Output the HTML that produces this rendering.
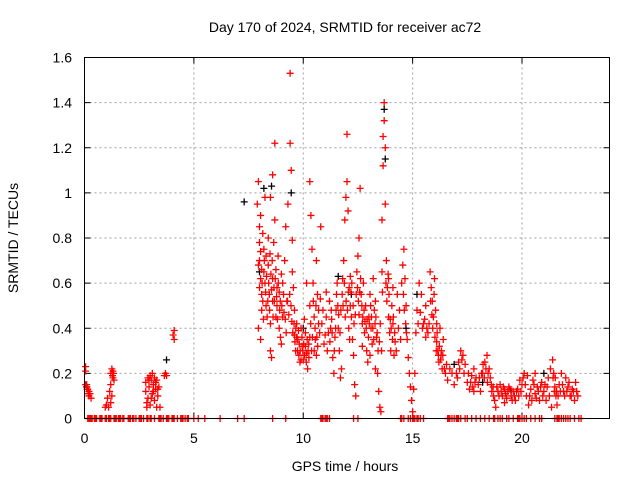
<!DOCTYPE html>
<html><head><meta charset="utf-8"><style>
body{margin:0;background:#fff;}
svg{display:block;font-family:"Liberation Sans",sans-serif;}
</style></head><body>
<svg id="chart" width="640" height="480" viewBox="0 0 640 480">
<text x="345" y="32" font-size="14" text-anchor="middle">Day 170 of 2024, SRMTID for receiver ac72</text>
<text x="345" y="471" font-size="14" text-anchor="middle">GPS time / hours</text>
<text x="18" y="238" font-size="14" text-anchor="middle" transform="rotate(-90 18 238)">SRMTID / TECUs</text>
<g id="grid"></g>
<g id="ticks"></g>
<g id="black"></g>
<g id="red"></g>
<rect x="84.5" y="57.5" width="525" height="361" fill="none" stroke="#000" stroke-width="1"/>
</svg>
<script>
const xTicks=[0,5,10,15,20];
const yTicks=[0,0.2,0.4,0.6,0.8,1,1.2,1.4,1.6];
const yTickLabels=["0","0.2","0.4","0.6","0.8","1","1.2","1.4","1.6"];
const zeroTimes=[0.15,0.2,0.25,0.3,0.35,0.45,0.5,0.55,0.7,0.75,0.8,0.95,1.0,1.1,1.15,1.2,1.35,1.4,1.45,1.55,1.6,1.65,1.75,1.8,2.0,2.05,2.1,2.2,2.25,2.35,2.5,2.55,2.6,2.7,2.85,2.9,3.0,3.05,3.2,3.4,3.45,3.5,3.6,3.75,3.8,3.85,4.0,4.05,4.1,4.25,4.4,4.45,4.5,4.6,4.7,4.75,5.0,5.2,5.5,6.2,7.0,7.3,8.6,9.2,10.8,10.85,10.9,11.0,11.05,11.1,11.2,12.3,12.5,14.45,14.5,14.6,14.8,14.9,15.0,15.05,15.1,15.2,15.25,15.35,15.5,16.6,16.65,16.7,16.8,16.9,17.0,17.05,17.1,17.2,17.4,17.5,17.7,17.9,18.1,18.3,18.5,18.7,18.75,18.9,19.0,19.1,19.3,19.4,19.6,19.8,19.85,19.9,20.0,20.1,20.2,20.4,20.6,20.8,20.9,21.5,21.6,21.65,21.7,21.8,21.9,22.0,22.1,22.2,22.4,22.6,22.7];
const redPts=[
[0.05,0.23],[0.05,0.21],[0.05,0.15],[0.1,0.14],[0.15,0.13],[0.2,0.12],[0.2,0.1],[0.25,0.11],[0.3,0.09],[0.1,0.15],[0.12,0.13],[0.18,0.11],
[0.95,0.05],[1.0,0.06],[1.05,0.09],[1.1,0.05],[1.15,0.12],[1.2,0.15],[1.2,0.2],[1.25,0.22],[1.3,0.18],[1.3,0.21],[1.35,0.17],[1.2,0.07],[1.25,0.1],[1.28,0.19],[1.33,0.2],
[2.8,0.16],[2.8,0.12],[2.85,0.07],[2.85,0.05],[2.9,0.18],[2.9,0.09],[2.95,0.14],[3.0,0.19],[3.0,0.06],[3.05,0.17],[3.1,0.2],[3.1,0.11],[3.15,0.15],[3.2,0.18],[3.2,0.08],[3.25,0.13],[3.3,0.17],[3.3,0.05],[3.35,0.1],[3.4,0.14],[3.45,0.05],[3.7,0.2],[3.75,0.19],[3.65,0.19],[2.95,0.17],[3.05,0.09],[3.15,0.12],[3.25,0.16],[3.35,0.13],
[4.05,0.37],[4.1,0.39],[4.1,0.35],
[7.9,0.95],[7.95,1.05],[8.0,0.85],[8.0,0.7],[8.05,0.62],[8.1,0.55],[8.1,0.48],[8.0,0.58],[7.95,0.4],[8.05,0.35],[8.15,0.82],[8.2,0.75],[8.2,0.65],[8.25,0.6],[8.3,0.72],[8.3,0.5],[8.35,0.45],[8.4,0.8],[8.4,0.68],[8.45,0.55],[8.5,0.42],[8.5,0.3],[8.55,0.27],[8.6,0.62],[8.6,1.08],[8.65,0.78],[8.7,1.22],[8.7,0.88],[8.75,0.66],[8.8,0.58],[8.8,0.5],[8.85,0.72],[8.9,0.4],[8.95,0.52],[9.0,0.64],[9.0,0.33],[9.05,0.45],[9.1,0.55],[9.2,0.85],[9.3,0.95],[9.4,1.53],[9.4,1.22],[9.45,1.1],[9.5,0.79],[9.5,0.65],[9.55,0.58],[9.6,0.48],[9.6,0.37],[9.65,0.3],[9.7,0.42],[9.75,0.35],[9.8,0.28],[9.85,0.25],[9.9,0.4],[9.95,0.32],[10.0,0.26],[10.05,0.44],[10.1,0.38],[10.15,0.29],[10.2,0.22],[10.25,0.33],[10.3,0.5],[10.3,1.05],[10.35,0.9],[10.4,0.75],[10.45,0.6],[10.5,0.45],[10.55,0.35],[10.6,0.28],[10.65,0.55],[10.7,0.42],[10.8,0.85],[10.9,0.48],[11.0,0.37],[11.1,0.3],[11.2,0.52],[11.3,0.44],[11.35,0.27],[11.4,0.2],[11.45,0.36],[11.5,0.48],[11.55,0.6],[11.6,0.4],[11.65,0.3],[11.7,0.18],[11.75,0.22],[11.8,0.62],[11.85,0.7],[11.9,0.88],[11.95,0.98],[12.0,1.26],[12.0,1.05],[12.05,0.92],[12.1,0.58],[12.15,0.5],[12.2,0.45],[12.25,0.35],[12.3,0.28],[12.35,0.15],[12.4,0.1],[12.45,0.65],[12.5,0.72],[12.55,0.8],[12.6,1.02],[12.65,0.55],[12.7,0.42],[12.75,0.6],[12.8,0.38],[12.85,0.5],[12.9,0.3],[12.95,0.25],[13.0,0.45],[13.05,0.55],[13.1,0.4],[13.15,0.33],[13.2,0.62],[13.25,0.48],[13.3,0.22],[13.35,0.36],[13.4,0.2],[13.45,0.12],[13.5,0.05],[13.55,0.03],[13.6,0.65],[13.6,0.88],[13.65,1.12],[13.65,1.25],[13.7,1.32],[13.7,1.4],[13.75,1.2],[13.75,0.95],[13.8,0.7],[13.85,0.58],[13.9,0.45],[13.95,0.38],[14.0,0.3],[14.05,0.5],[14.1,0.42],[14.15,0.28],[14.2,0.34],[14.3,0.55],[14.4,0.48],[14.5,0.6],[14.55,0.68],[14.6,0.75],[14.65,0.62],[14.7,0.5],[14.75,0.35],[14.8,0.27],[14.85,0.2],[14.9,0.14],[14.95,0.08],[15.0,0.03],[15.05,0.13],[15.1,0.2],[15.2,0.48],[15.3,0.6],[15.4,0.55],[15.5,0.42],[15.6,0.36],[15.7,0.38],[15.8,0.65],[15.85,0.58],[15.9,0.52],[15.95,0.45],[16.0,0.62],[16.05,0.48],[16.1,0.34],[16.15,0.3],[16.2,0.25],[16.25,0.4],[16.3,0.28],[16.35,0.22],[16.4,0.35],[16.5,0.2],[16.6,0.17],[16.7,0.22],[16.8,0.2],[16.9,0.15],[17.0,0.2],[17.1,0.25],[17.2,0.3],[17.3,0.28],[17.4,0.24],[17.5,0.16],[17.6,0.13],[17.7,0.19],[17.8,0.22],[17.9,0.18],[18.0,0.15],[18.1,0.12],[18.2,0.2],[18.3,0.25],[18.4,0.28],[18.5,0.22],[18.6,0.15],[18.7,0.1],[18.8,0.05],[18.9,0.12],[19.0,0.15],[19.1,0.1],[19.2,0.13],[19.3,0.09],[19.4,0.14],[19.5,0.1],[19.6,0.12],[19.7,0.08],[19.8,0.13],[19.9,0.17],[20.0,0.15],[20.1,0.2],[20.2,0.1],[20.3,0.06],[20.4,0.13],[20.5,0.17],[20.6,0.11],[20.7,0.14],[20.8,0.08],[20.9,0.16],[21.0,0.12],[21.1,0.08],[21.2,0.18],[21.3,0.22],[21.4,0.26],[21.45,0.2],[21.5,0.14],[21.55,0.1],[21.6,0.06],[21.7,0.15],[21.8,0.2],[21.9,0.12],[22.0,0.18],[22.1,0.14],[22.2,0.1],[22.3,0.13],[22.4,0.08],[22.5,0.12],[22.45,0.16],
[8.05,0.9],[8.25,0.98],[8.5,0.98],[8.6,0.52],[8.75,0.45],[9.15,0.7],[9.25,0.52],[10.15,0.6],[10.6,0.7],[11.05,0.56],[11.25,0.4],[12.15,0.63],[12.55,0.46],[12.7,0.32],[13.05,0.28],[13.3,0.52],[13.9,0.62],[14.1,0.58],[15.6,0.5],[16.1,0.42],[17.8,0.12],[18.45,0.2],[19.2,0.07],[20.25,0.19],[20.6,0.2],[21.35,0.05]
];
const redPts2=[
[7.95,0.68],[8.0,0.78],[8.05,0.74],[8.1,0.66],[8.12,0.6],[8.15,0.52],[8.18,0.44],[8.22,0.7],[8.28,0.56],[8.32,0.63],[8.38,0.52],[8.42,0.6],[8.46,0.48],[8.48,0.73],[8.52,0.64],[8.55,0.57],[8.58,0.7],[8.62,0.45],[8.66,0.58],[8.68,0.52],[8.72,0.62],[8.78,0.54],[8.82,0.44],[8.86,0.6],[8.9,0.56],[8.92,0.48],[8.96,0.36],[9.02,0.5],[9.06,0.6],[9.12,0.47],[9.18,0.44],[9.22,0.38],[9.28,0.52],[9.34,0.46],[9.38,0.55],[9.44,0.5],[9.48,0.43],[9.52,0.38],[9.58,0.42],[9.62,0.34],[9.66,0.4],[9.7,0.36],[9.74,0.3],[9.78,0.39],[9.82,0.33],[9.86,0.3],[9.9,0.26],[9.94,0.36],[9.98,0.3],[10.02,0.33],[10.06,0.28],[10.1,0.32],[10.14,0.25],[10.18,0.35],[10.22,0.3],[10.26,0.27],[10.3,0.36],[10.34,0.42],[10.38,0.3],[10.42,0.36],[10.46,0.52],[10.5,0.3],[10.54,0.4],[10.58,0.5],[10.62,0.36],[10.66,0.32],[10.7,0.48],[10.75,0.38],[10.78,0.53],[10.85,0.42],[10.95,0.33],[11.05,0.45],[11.15,0.38],[11.22,0.34],[11.28,0.48],[11.32,0.38],[11.42,0.3],[11.48,0.4],[11.52,0.55],[11.58,0.5],[11.62,0.46],[11.68,0.38],[11.72,0.48],[11.78,0.55],[11.82,0.5],[11.88,0.6],[11.92,0.45],[11.96,0.52],[12.02,0.48],[12.06,0.56],[12.08,0.4],[12.12,0.35],[12.18,0.56],[12.22,0.6],[12.28,0.5],[12.32,0.42],[12.38,0.46],[12.42,0.55],[12.48,0.58],[12.52,0.52],[12.58,0.56],[12.62,0.62],[12.68,0.5],[12.72,0.45],[12.78,0.48],[12.82,0.43],[12.88,0.4],[12.92,0.44],[12.98,0.36],[13.02,0.42],[13.08,0.5],[13.12,0.45],[13.18,0.4],[13.22,0.35],[13.28,0.42],[13.32,0.45],[13.38,0.38],[13.42,0.3],[13.48,0.34],[13.52,0.42],[13.58,0.3],[13.62,0.56],[13.78,0.6],[13.82,0.52],[13.88,0.64],[13.92,0.55],[13.98,0.44],[14.02,0.4],[14.08,0.35],[14.12,0.45],[14.18,0.38],[14.25,0.3],[14.35,0.4],[14.45,0.35],[14.58,0.55],[14.62,0.48],[14.68,0.42],[14.72,0.38],[15.15,0.38],[15.25,0.42],[15.35,0.47],[15.45,0.4],[15.55,0.44],[15.65,0.4],[15.75,0.42],[15.82,0.52],[15.88,0.46],[15.92,0.4],[15.98,0.55],[16.02,0.36],[16.08,0.3],[16.12,0.38],[16.18,0.28],[16.22,0.32],[16.28,0.26],[16.32,0.3],[16.38,0.28],[16.45,0.22],[16.55,0.24],
[17.05,0.18],[17.15,0.22],[17.25,0.26],[17.35,0.2],[17.55,0.2],[17.65,0.16],[17.75,0.14],[17.85,0.16],[18.05,0.18],[18.15,0.2],[18.22,0.24],[18.28,0.18],[18.35,0.22],[18.42,0.16],[18.55,0.18],[18.62,0.12],[18.68,0.14],[18.75,0.08],[18.85,0.14],[18.95,0.1],[19.05,0.12],[19.15,0.14],[19.25,0.11],[19.35,0.12],[19.45,0.13],[19.55,0.08],[19.65,0.1],[19.75,0.12],[19.85,0.1],[19.95,0.12],[20.05,0.18],[20.15,0.15],[20.35,0.1],[20.45,0.08],[20.55,0.15],[20.65,0.09],[20.75,0.12],[20.85,0.14],[20.95,0.1],[21.05,0.15],[21.15,0.14],[21.25,0.1],[21.42,0.18],[21.48,0.12],[21.52,0.18],[21.58,0.12],[21.65,0.1],[21.75,0.12],[21.85,0.15],[21.95,0.1],[22.05,0.12],[22.15,0.16],[22.25,0.1],[22.35,0.12],[22.55,0.1]
];
const blackPts=[[0.1,0.14],[7.3,0.96],[3.75,0.26],[8.2,1.02],[8.55,1.03],[9.45,1.0],[11.6,0.63],[13.7,1.37],[13.75,1.15],[15.2,0.55],[16.9,0.24],[18.2,0.16],[21.0,0.2],[10.0,0.4],[12.2,0.55],[19.5,0.12],[14.7,0.4],[8.0,0.65]];
const X0=84.5,X1=609.5,Y0=418.5,Y1=57.5,XMAX=24,YMAX=1.6;
const xs=t=>X0+t/XMAX*(X1-X0);
const ys=v=>Y0-v/YMAX*(Y0-Y1);
const NS="http://www.w3.org/2000/svg";
function mk(tag,attrs,parent){const e=document.createElementNS(NS,tag);for(const k in attrs)e.setAttribute(k,attrs[k]);parent.appendChild(e);return e;}
const grid=document.getElementById('grid'),ticks=document.getElementById('ticks');
xTicks.forEach(t=>{const x=xs(t);
 if(t>0){const g=mk('line',{x1:x,x2:x,y1:Y1,y2:Y0,stroke:'#a0a0a0','stroke-dasharray':'2,3'},grid);
 
 }
 mk('line',{x1:x,x2:x,y1:Y0,y2:Y0-6,stroke:'#000'},ticks);
 mk('line',{x1:x,x2:x,y1:Y1,y2:Y1+6,stroke:'#000'},ticks);
 const l=mk('text',{x:x,y:443,'font-size':14,'text-anchor':'middle'},ticks);l.textContent=t;
 
 
});
yTicks.forEach((v,i)=>{const y=ys(v);
 if(v>0&&v<YMAX){const g=mk('line',{x1:X0,x2:X1,y1:y,y2:y,stroke:'#a0a0a0','stroke-dasharray':'2,3'},grid);
 
 }
 mk('line',{x1:X0,x2:X0+6,y1:y,y2:y,stroke:'#000'},ticks);
 mk('line',{x1:X1,x2:X1-6,y1:y,y2:y,stroke:'#000'},ticks);
 const l=mk('text',{x:72,y:y+5,'font-size':14,'text-anchor':'end'},ticks);l.textContent=yTickLabels[i];
 
 
});
function plus(p,t,v,c){const x=xs(t),y=ys(v);
 const e=mk('path',{d:`M${x-3.5},${y}h7M${x},${y-3.5}v7`,stroke:c,'stroke-width':1.3,fill:'none'},p);
 
 }
const bk=document.getElementById('black'),rd=document.getElementById('red');
blackPts.forEach(p=>plus(bk,p[0],p[1],'#000'));
redPts.forEach(p=>plus(rd,p[0],p[1],'#ff0000'));
redPts2.forEach(p=>plus(rd,p[0],p[1],'#ff0000'));
zeroTimes.forEach(t=>plus(rd,t,0,'#ff0000'));
</script>
</body></html>
